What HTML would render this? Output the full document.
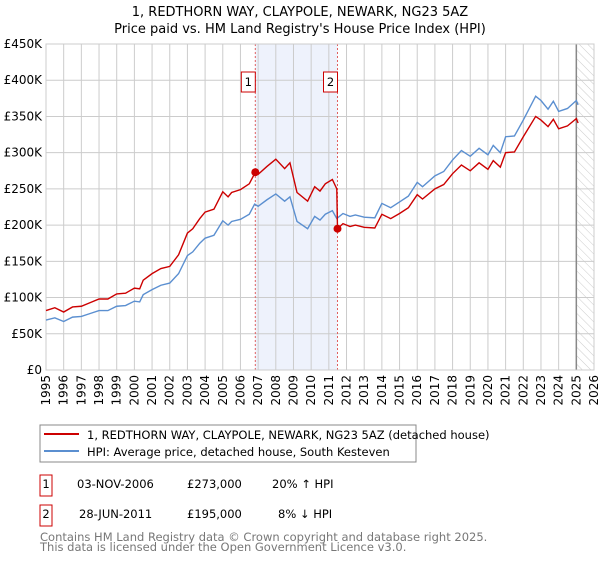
<!DOCTYPE html>
<html><head><meta charset="utf-8"><style>
body{margin:0;background:#fff;font-family:"Liberation Sans","DejaVu Sans",sans-serif;}
svg text{font-family:"DejaVu Sans","Liberation Sans",sans-serif;}
</style></head><body>
<svg id="c" width="600" height="560" viewBox="0 0 600 560" xmlns="http://www.w3.org/2000/svg">
<defs><pattern id="hatch" width="6" height="6" patternUnits="userSpaceOnUse" patternTransform="rotate(-45)"><line x1="0" y1="0" x2="0" y2="6" stroke="#ccc" stroke-width="1"/></pattern></defs>
<text x="300" y="16" text-anchor="middle" font-size="13">1, REDTHORN WAY, CLAYPOLE, NEWARK, NG23 5AZ</text>
<text x="300" y="33" text-anchor="middle" font-size="13">Price paid vs. HM Land Registry's House Price Index (HPI)</text>
<g id="grid"></g><g id="marks"></g><g id="axes"></g>
<rect x="40" y="425" width="376" height="37" fill="#fff" stroke="#888"/>
<line x1="44" y1="434" x2="79" y2="434" stroke="#cc0000" stroke-width="2"/>
<text x="87" y="439" font-size="11.5">1, REDTHORN WAY, CLAYPOLE, NEWARK, NG23 5AZ (detached house)</text>
<line x1="44" y1="451" x2="79" y2="451" stroke="#5b8fd0" stroke-width="2"/>
<text x="87" y="456" font-size="11.5">HPI: Average price, detached house, South Kesteven</text>
<g font-size="11.5">
<rect x="40" y="475" width="12" height="21" fill="#fff" stroke="#cc0000"/>
<text x="46" y="488" text-anchor="middle">1</text>
<text x="77" y="488">03-NOV-2006</text><text x="187" y="488">£273,000</text><text x="272" y="488">20% ↑ HPI</text></g>
<g font-size="11.5">
<rect x="40" y="505" width="12" height="21" fill="#fff" stroke="#cc0000"/>
<text x="46" y="518" text-anchor="middle">2</text>
<text x="79" y="518">28-JUN-2011</text><text x="187" y="518">£195,000</text><text x="278" y="518">8% ↓ HPI</text></g>
<text x="40" y="541" font-size="11.5" fill="#777">Contains HM Land Registry data © Crown copyright and database right 2025.</text>
<text x="40" y="551" font-size="11.5" fill="#777">This data is licensed under the Open Government Licence v3.0.</text>
</svg>
<script>
const yTicks=[0,50,100,150,200,250,300,350,400,450];
const yTickLabels=["£0","£50K","£100K","£150K","£200K","£250K","£300K","£350K","£400K","£450K"];
const xYears=[1995,1996,1997,1998,1999,2000,2001,2002,2003,2004,2005,2006,2007,2008,2009,2010,2011,2012,2013,2014,2015,2016,2017,2018,2019,2020,2021,2022,2023,2024,2025,2026];
const hpiDates=[1995.0,1995.5,1996.0,1996.5,1997.0,1997.5,1998.0,1998.5,1999.0,1999.5,2000.0,2000.3,2000.5,2001.0,2001.5,2002.0,2002.5,2003.0,2003.3,2003.7,2004.0,2004.5,2005.0,2005.3,2005.5,2006.0,2006.5,2006.8,2007.0,2007.5,2008.0,2008.5,2008.8,2009.2,2009.8,2010.2,2010.5,2010.8,2011.2,2011.45,2011.8,2012.2,2012.5,2013.0,2013.6,2014.0,2014.5,2015.0,2015.5,2016.0,2016.3,2017.0,2017.5,2018.0,2018.5,2019.0,2019.5,2020.0,2020.3,2020.7,2021.0,2021.5,2022.0,2022.7,2023.0,2023.4,2023.7,2024.0,2024.5,2025.0,2025.1];
const hpiValues=[69,72,67,73,74,78,82,82,88,89,95,94,104,111,117,120,133,158,163,175,182,186,206,200,205,208,215,229,226,235,243,233,239,205,195,212,207,215,220,209,216,212,214,211,210,230,224,232,240,259,253,268,274,290,303,295,306,297,310,300,322,323,345,378,372,360,371,357,361,372,366];
const priceDates=[1995.0,1995.5,1996.0,1996.5,1997.0,1997.5,1998.0,1998.5,1999.0,1999.5,2000.0,2000.3,2000.5,2001.0,2001.5,2002.0,2002.5,2003.0,2003.3,2003.7,2004.0,2004.5,2005.0,2005.3,2005.5,2006.0,2006.5,2006.84,2007.0,2007.5,2008.0,2008.5,2008.8,2009.2,2009.8,2010.2,2010.5,2010.8,2011.2,2011.45,2011.49,2011.8,2012.2,2012.5,2013.0,2013.6,2014.0,2014.5,2015.0,2015.5,2016.0,2016.3,2017.0,2017.5,2018.0,2018.5,2019.0,2019.5,2020.0,2020.3,2020.7,2021.0,2021.5,2022.0,2022.7,2023.0,2023.4,2023.7,2024.0,2024.5,2025.0,2025.1];
const priceValues=[82,86,80,87,88,93,98,98,105,106,113,112,124,133,140,143,159,189,195,209,218,222,246,239,245,249,257,273,270,281,291,278,286,245,233,253,247,257,263,250,195,202,198,200,197,196,215,209,216,224,242,236,250,256,271,283,275,286,277,289,280,300,301,322,350,345,336,346,333,337,347,341];
const sales=[{d:2006.84,v:273,label:"1"},{d:2011.49,v:195,label:"2"}];
const X0=46,X1=594,Y0=370,Y1=44;
const xs=d=>X0+(d-1995)/(2026-1995)*(X1-X0);
const ys=v=>Y0-v/450*(Y0-Y1);
const NS="http://www.w3.org/2000/svg";
function mk(tag,attrs,parent){const e=document.createElementNS(NS,tag);for(const k in attrs)e.setAttribute(k,attrs[k]);document.getElementById(parent).appendChild(e);return e;}
let sh=mk("rect",{x:xs(sales[0].d),y:Y1,width:xs(sales[1].d)-xs(sales[0].d),height:Y0-Y1,fill:"#eef2fc"},"grid");


let ht=mk("rect",{x:xs(2025.0),y:Y1,width:X1-xs(2025.0),height:Y0-Y1,fill:"url(#hatch)"},"grid");


yTicks.forEach((t,i)=>{
 const l=mk("line",{x1:X0,x2:X1,y1:ys(t),y2:ys(t),stroke:"#ccc"},"grid");
 
 
 const tx=mk("text",{x:X0-4,y:ys(t)+4,"text-anchor":"end","font-size":"12"},"axes");
 tx.textContent=yTickLabels[i];
 
 
});
xYears.forEach(yr=>{
 const l=mk("line",{x1:xs(yr),x2:xs(yr),y1:Y1,y2:Y0,stroke:"#ccc"},"grid");
 
 
 const tx=mk("text",{x:0,y:0,"text-anchor":"end","font-size":"12",transform:`translate(${xs(yr)+4},${Y0+5}) rotate(-90)`},"axes");
 tx.textContent=yr;
 
 
});
let vl=mk("line",{x1:xs(2025.0),x2:xs(2025.0),y1:Y1,y2:Y0,stroke:"#888","stroke-width":1.5},"grid");


sales.forEach(s=>{
 const l=mk("line",{x1:xs(s.d),x2:xs(s.d),y1:Y1,y2:Y0,stroke:"#e06060","stroke-dasharray":"2,2"},"grid");
 
 
 const b=mk("rect",{x:xs(s.d)-14,y:72,width:14,height:20,fill:"#fff",stroke:"#cc0000"},"axes");
 
 
 const t=mk("text",{x:xs(s.d)-7,y:86,"text-anchor":"middle","font-size":"11.5"},"axes");
 t.textContent=s.label;
 
 
});
const hp=mk("polyline",{points:hpiDates.map((d,i)=>xs(d)+","+ys(hpiValues[i])).join(" "),fill:"none",stroke:"#5b8fd0","stroke-width":1.4},"marks");


const pp=mk("polyline",{points:priceDates.map((d,i)=>xs(d)+","+ys(priceValues[i])).join(" "),fill:"none",stroke:"#cc0000","stroke-width":1.4},"marks");


sales.forEach(s=>{
 const c=mk("circle",{cx:xs(s.d),cy:ys(s.v),r:4,fill:"#cc0000"},"marks");
 
 
});
let fr=mk("rect",{x:X0,y:Y1,width:X1-X0,height:Y0-Y1,fill:"none",stroke:"#ccc"},"grid");


</script>
</body></html>
